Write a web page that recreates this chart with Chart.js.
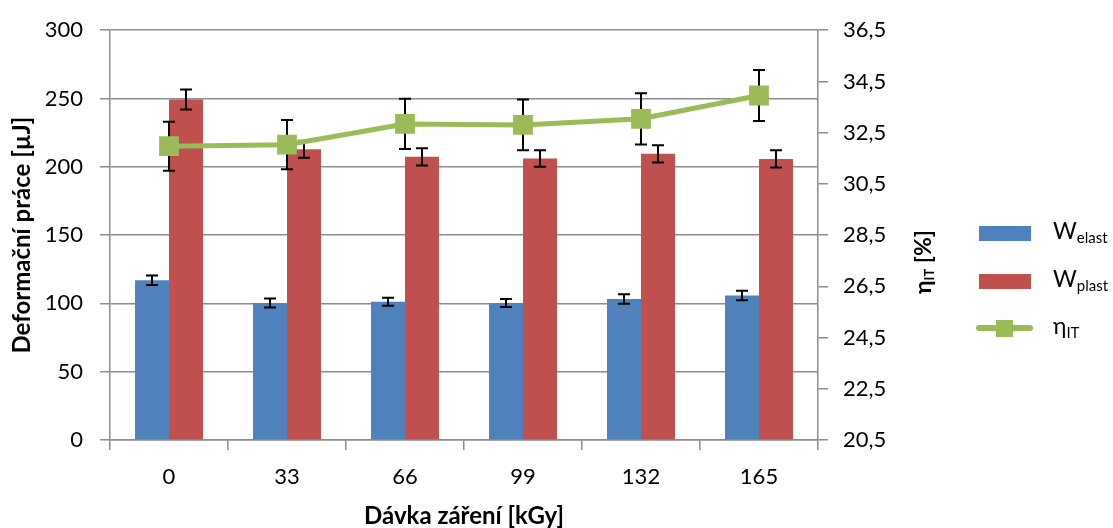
<!DOCTYPE html>
<html lang="cs">
<head>
<meta charset="UTF-8">
<title>Deformační práce</title>
<script src="https://cdn.jsdelivr.net/npm/chart.js"></script>
<style>
  body { margin: 0; background: #fff; font-family: Lato, sans-serif; }
  #wrap { position: relative; width: 1113px; height: 528px; }
  .leg { position: absolute; left: 976px; font-size: 23px; color: #000; }
  .leg .box { position: absolute; left: 3px; width: 52px; height: 15px; }
  .leg span.t { position: absolute; left: 77px; white-space: nowrap; line-height: 1; }
  .leg sub { font-size: 15px; vertical-align: -4px; }
  #rtitle { position: absolute; left: 922px; top: 262px; transform: translate(-50%, -50%) rotate(-90deg);
            font-weight: bold; font-size: 23px; white-space: nowrap; }
  #rtitle sub { font-size: 13px; vertical-align: -3px; }
</style>
</head>
<body>
<div id="wrap">
  <canvas id="chart" width="1113" height="528"></canvas>
  <div id="rtitle">η<sub>IT</sub> [%]</div>
  <div class="leg" style="top:226px"><div class="box" style="background:#4F81BD"></div><span class="t" style="top:-7px">W<sub>elast</sub></span></div>
  <div class="leg" style="top:274px"><div class="box" style="background:#C0504D"></div><span class="t" style="top:-7px">W<sub>plast</sub></span></div>
  <div class="leg" style="top:328px">
    <div style="position:absolute;left:0;top:-3px;width:57px;height:6px;border-radius:3px;background:#9BBB59"></div>
    <div style="position:absolute;left:20px;top:-8px;width:17px;height:17px;background:#9BBB59"></div>
    <span class="t" style="top:-14px">η<sub>IT</sub></span>
  </div>
</div>
<script>
// dávka záření [kGy]
const doses = ['0', '33', '66', '99', '132', '165'];

// deformační práce [µJ]
const wElast = [117, 100.3, 101.2, 100.3, 103.2, 105.8];
const wElastErr = [3.5, 3.3, 3, 3, 3.5, 3.5];
const wPlast = [249.3, 212.9, 207.3, 206.1, 209.5, 205.8];
const wPlastErr = [7.3, 6.2, 6.3, 6.1, 6.3, 6.3];

// eta IT [%]
const eta = [31.97, 32.03, 32.84, 32.8, 33.04, 33.95];
const etaErr = [0.96, 0.96, 0.98, 0.99, 1.0, 1.0];

const errs = [etaErr, wElastErr, wPlastErr];
const gridColor = '#8c8c8c';

function drawErr(chart, index) {
  const meta = chart.getDatasetMeta(index);
  const ds = chart.data.datasets[index];
  const err = errs[index];
  const ys = chart.scales[meta.yAxisID];
  const ctx = chart.ctx;
  ctx.save();
  ctx.strokeStyle = '#000';
  ctx.lineWidth = 2;
  meta.data.forEach((el, i) => {
    const x = el.x;
    const top = ys.getPixelForValue(ds.data[i] + err[i]);
    const bot = ys.getPixelForValue(ds.data[i] - err[i]);
    ctx.beginPath();
    ctx.moveTo(x, top); ctx.lineTo(x, bot);
    ctx.moveTo(x - 6, top); ctx.lineTo(x + 6, top);
    ctx.moveTo(x - 6, bot); ctx.lineTo(x + 6, bot);
    ctx.stroke();
  });
  ctx.restore();
}

const errorBars = {
  id: 'errorBars',
  beforeDatasetDraw(chart, args) {
    if (args.index === 0) drawErr(chart, 0);
  },
  afterDatasetDraw(chart, args) {
    if (args.index > 0) drawErr(chart, args.index);
  }
};

const tickFont = { family: 'Lato', size: 22 };
const titleFont = { family: 'Lato', size: 24, weight: 'bold', lineHeight: 1.0 };

new Chart(document.getElementById('chart'), {
  data: {
    labels: doses,
    datasets: [
      {
        type: 'line', label: 'ηIT', data: eta, yAxisID: 'y1', order: 0,
        borderColor: '#9BBB59', backgroundColor: '#9BBB59', borderWidth: 5,
        pointStyle: 'rect', pointRadius: 14, pointBorderWidth: 0
      },
      {
        type: 'bar', label: 'Welast', data: wElast, yAxisID: 'y', order: 1,
        backgroundColor: '#4F81BD', categoryPercentage: 0.576, barPercentage: 1
      },
      {
        type: 'bar', label: 'Wplast', data: wPlast, yAxisID: 'y', order: 2,
        backgroundColor: '#C0504D', categoryPercentage: 0.576, barPercentage: 1
      }
    ]
  },
  options: {
    responsive: false,
    animation: false,
    layout: { padding: { left: 0, right: 165, top: 28, bottom: 0 } },
    plugins: { legend: { display: false }, tooltip: { enabled: false } },
    scales: {
      x: {
        offset: true,
        grid: { display: true, offset: true, drawOnChartArea: false, tickLength: 10, color: gridColor, lineWidth: 1.5 },
        border: { color: gridColor, width: 1.5 },
        ticks: { font: tickFont, color: '#000', padding: 14, maxRotation: 0 },
        title: { display: true, text: 'Dávka záření [kGy]', font: titleFont, color: '#000', padding: { top: 0, bottom: 0 } },
        afterFit(s) { s.height = 88; }
      },
      y: {
        position: 'left', min: 0, max: 300,
        ticks: { stepSize: 50, font: tickFont, color: '#000', padding: 17 },
        grid: { color: gridColor, lineWidth: 1.5, tickLength: 10 },
        border: { color: gridColor, width: 1.5 },
        title: { display: true, text: 'Deformační práce [µJ]', font: titleFont, color: '#000', padding: { top: 10, bottom: 0 } },
        afterFit(s) { s.width = 110; }
      },
      y1: {
        position: 'right', min: 20.5, max: 36.5,
        ticks: {
          stepSize: 2, font: tickFont, color: '#000', padding: 15,
          callback: v => v.toFixed(1).replace('.', ',')
        },
        grid: { drawOnChartArea: false, color: gridColor, lineWidth: 1.5, tickLength: 10 },
        border: { color: gridColor, width: 1.5 },
        afterFit(s) { s.width = 130; }
      }
    }
  },
  plugins: [errorBars]
});
</script>
</body>
</html>
